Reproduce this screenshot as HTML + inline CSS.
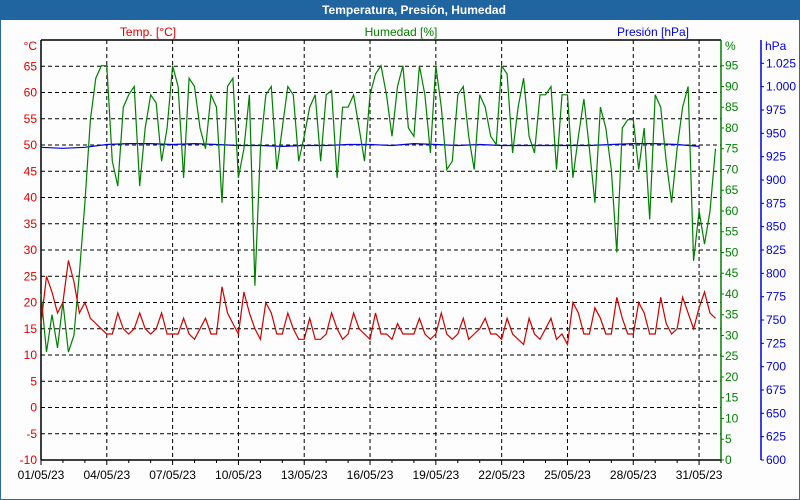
<!DOCTYPE html>
<html><head><meta charset="utf-8"><style>
html,body{margin:0;padding:0;background:#fff}
#wrap{position:relative;width:800px;height:500px;overflow:hidden;font-family:"Liberation Sans",Tahoma,sans-serif}
svg text{font-family:"Liberation Sans",sans-serif;font-size:12px}
</style></head><body>
<div id="wrap">
<svg id="chart" width="800" height="500" viewBox="0 0 800 500">
<rect x="0" y="0" width="800" height="500" fill="#fcfdfc" stroke="#2a6aa6" stroke-width="2"/>
<rect x="0" y="0" width="800" height="20" fill="#2064a0"/>
<text x="414" y="14" text-anchor="middle" fill="#fff" font-weight="bold">Temperatura, Presión, Humedad</text>
<text x="148" y="36" text-anchor="middle" fill="#e00000">Temp. [°C]</text>
<text x="401" y="36" text-anchor="middle" fill="#008000">Humedad [%]</text>
<text x="653" y="36" text-anchor="middle" fill="#0000e0">Presión [hPa]</text>
<text x="37" y="50" text-anchor="end" fill="#e00000">°C</text>
<text x="725" y="50" fill="#008000">%</text>
<text x="765" y="50" fill="#0000e0">hPa</text>
<g id="grid"></g><g id="axes"></g><g id="series"></g>
</svg>
</div>
<script>
const dateLabels=["01/05/23","04/05/23","07/05/23","10/05/23","13/05/23","16/05/23","19/05/23","22/05/23","25/05/23","28/05/23","31/05/23"];
const tempTicks=[-10,-5,0,5,10,15,20,25,30,35,40,45,50,55,60,65];
const humTicks=[0,5,10,15,20,25,30,35,40,45,50,55,60,65,70,75,80,85,90,95];
const presTicks=[600,625,650,675,700,725,750,775,800,825,850,875,900,925,950,975,1000,1025];
// values every 6 hours from 01/05 00:00
const humidity=[40,26,35,27,38,26,30,45,62,82,92,95,95,72,66,85,88,90,66,80,88,86,72,80,95,90,68,92,90,80,75,88,85,62,90,92,68,75,88,42,75,88,90,70,80,90,88,72,78,85,88,72,88,89,68,85,85,88,80,72,88,93,95,88,78,90,95,80,78,95,88,74,95,85,70,72,88,90,78,70,88,85,78,76,95,93,74,85,92,78,74,88,88,90,70,88,88,68,78,87,75,62,85,80,70,50,80,82,82,70,80,58,88,85,72,62,75,85,90,48,60,52,60,75];
const temperature=[16,25,22,18,20,28,24,18,20,17,16,15,14,14,18,15,14,15,18,15,14,15,18,14,14,14,17,14,13,15,17,14,14,23,18,16,14,22,18,15,13,20,18,14,14,18,15,13,13,17,13,13,14,18,15,13,14,18,15,14,13,18,14,14,13,16,14,14,14,17,14,13,14,18,14,13,14,17,13,14,15,17,14,14,13,17,14,13,12,17,14,13,15,17,13,14,12,20,18,14,14,19,17,14,14,21,17,14,14,20,18,14,14,21,16,14,15,21,18,15,19,22,18,17];
const pressure=[935,934,935,938,939,939,938,939,938,937,937,936,937,937,938,938,937,939,938,937,938,937,937,937,937,937,938,939,939,938,936];

const NS="http://www.w3.org/2000/svg";
const L=41,R=721,T=40,B=460,DAYS=31;
const xDay=d=>L+(d/DAYS)*(R-L);
const yT=v=>B-(v+10)*(B-T)/80;
const yH=v=>B-v*(B-T)/101.2;
const yP=v=>B-(v-600)*(B-T)/450;
function mk(tag,attrs,parent){const e=document.createElementNS(NS,tag);for(const k in attrs)e.setAttribute(k,attrs[k]);parent.appendChild(e);return e;}
const grid=document.getElementById('grid'),axes=document.getElementById('axes'),series=document.getElementById('series');

tempTicks.forEach(v=>{
  const y=yT(v);
  if(v>-10){const g=mk('line',{x1:L,x2:R,y1:y,y2:y,stroke:'#000','stroke-dasharray':'4,3'},grid);
  
  }
  const t=mk('text',{x:37,y:y+4,'text-anchor':'end',fill:'#e00000'},axes);t.textContent=v;
  
  
});
dateLabels.forEach((s,i)=>{
  const x=xDay(i*3);
  if(i>0){const g=mk('line',{x1:x,x2:x,y1:T,y2:B,stroke:'#000','stroke-dasharray':'4,3'},grid);
  
  }
  const t=mk('text',{x:x,y:479,'text-anchor':'middle',fill:'#000'},axes);t.textContent=s;
  
  
});
for(let d=0;d<=DAYS;d++){const x=xDay(d);const k=mk('line',{x1:x,x2:x,y1:B,y2:B+(d%3==0?5:3),stroke:'#000'},axes);
  
  }
humTicks.forEach(v=>{const y=yH(v);
  mk('line',{x1:R,x2:R+3,y1:y,y2:y,stroke:'#008000'},axes);
  const t=mk('text',{x:725,y:y+4,fill:'#008000'},axes);t.textContent=v;
  
  });
presTicks.forEach(v=>{const y=yP(v);
  mk('line',{x1:761,x2:764,y1:y,y2:y,stroke:'#0000e0'},axes);
  const t=mk('text',{x:766,y:y+4,fill:'#0000e0'},axes);t.textContent=v.toLocaleString('de-DE');
  
  });
const a1=mk('line',{x1:L,x2:L,y1:T,y2:B,stroke:'#000','stroke-width':1.5},axes);


const a2=mk('line',{x1:L,x2:R,y1:B,y2:B,stroke:'#000','stroke-width':1.5},axes);


const a3=mk('line',{x1:L,x2:R,y1:T,y2:T,stroke:'#000','stroke-width':1.5},axes);


const a4=mk('line',{x1:R,x2:R,y1:T,y2:B,stroke:'#008000','stroke-width':1.5},axes);


const a5=mk('line',{x1:761,x2:761,y1:T,y2:B,stroke:'#0000e0','stroke-width':1.5},axes);



function line(arr,step,yf,color,name){
  const pts=arr.map((v,i)=>xDay(i*step).toFixed(1)+','+yf(v).toFixed(1)).join(' ');
  const p=mk('polyline',{points:pts,fill:'none',stroke:color,'stroke-width':1.2},series);
  
  
}
line(pressure,1,yP,'#0000e0','pressure-line');
line(humidity,0.25,yH,'#008000','humidity-line');
line(temperature,0.25,yT,'#d00000','temperature-line');
</script>
</body></html>
